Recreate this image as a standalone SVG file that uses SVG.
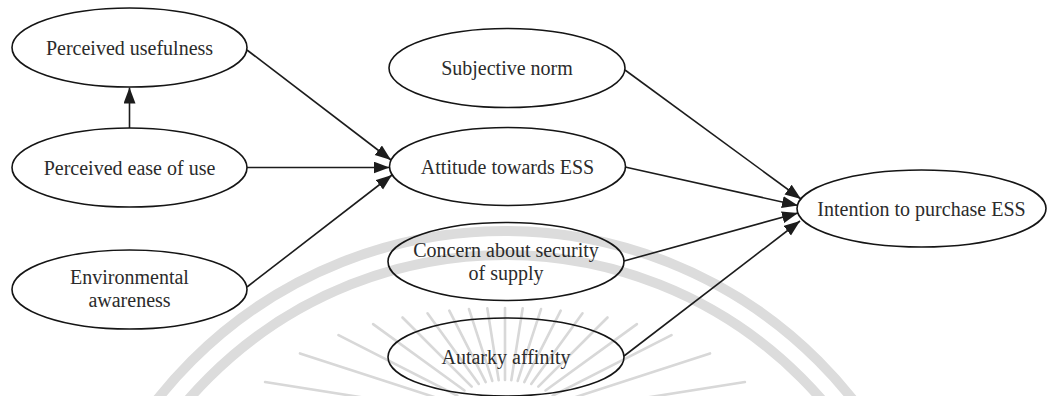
<svg xmlns="http://www.w3.org/2000/svg" width="1049" height="396" viewBox="0 0 1049 396">
  <style>
    .node ellipse { fill: none; stroke: #151515; stroke-width: 1.6; }
    .node text { font-family: "Liberation Serif", "Times New Roman", serif; font-size: 20px; fill: #2b2b2b; text-anchor: middle; }
    .edge { fill: none; stroke: #1c1c1c; stroke-width: 1.6; marker-end: url(#arrow); }
    .band { fill: none; stroke: #dcdcdc; stroke-width: 10; }
    .ray { stroke: #d8d8d8; stroke-width: 2.6; stroke-linecap: round; }
  </style>
  <defs>
    <marker id="arrow" markerUnits="userSpaceOnUse" markerWidth="17" markerHeight="13" refX="16" refY="6" orient="auto">
      <path d="M0,0 L16,6 L0,12 z" fill="#1c1c1c"/>
    </marker>
  </defs>

  <rect width="1049" height="396" fill="#ffffff"/>

  <!-- background seal: two arcs and sun rays -->
  <g id="seal">
    <circle class="band" cx="505" cy="674" r="443"/>
    <circle class="band" cx="505" cy="674" r="419"/>
    <g>
      <line class="ray" x1="563.4" y1="410.8" x2="744.9" y2="382.0"/>
      <line class="ray" x1="558.9" y1="402.5" x2="710.0" y2="353.4"/>
      <line class="ray" x1="552.7" y1="395.7" x2="671.5" y2="335.2"/>
      <line class="ray" x1="545.5" y1="390.5" x2="636.9" y2="324.1"/>
      <line class="ray" x1="538.3" y1="386.7" x2="607.5" y2="317.5"/>
      <line class="ray" x1="531.2" y1="384.0" x2="582.5" y2="313.3"/>
      <line class="ray" x1="524.3" y1="382.1" x2="560.7" y2="310.7"/>
      <line class="ray" x1="517.7" y1="380.9" x2="541.0" y2="309.1"/>
      <line class="ray" x1="511.3" y1="380.2" x2="522.7" y2="308.3"/>
      <line class="ray" x1="505.0" y1="380.0" x2="505.0" y2="308.0"/>
      <line class="ray" x1="498.7" y1="380.2" x2="487.3" y2="308.3"/>
      <line class="ray" x1="492.3" y1="380.9" x2="469.0" y2="309.1"/>
      <line class="ray" x1="485.7" y1="382.1" x2="449.3" y2="310.7"/>
      <line class="ray" x1="478.8" y1="384.0" x2="427.5" y2="313.3"/>
      <line class="ray" x1="471.7" y1="386.7" x2="402.5" y2="317.5"/>
      <line class="ray" x1="464.5" y1="390.5" x2="373.1" y2="324.1"/>
      <line class="ray" x1="457.3" y1="395.7" x2="338.5" y2="335.2"/>
      <line class="ray" x1="451.1" y1="402.5" x2="300.0" y2="353.4"/>
      <line class="ray" x1="446.6" y1="410.8" x2="265.1" y2="382.0"/>
    </g>
  </g>

  <!-- connectors -->
  <g id="edges">
    <path class="edge" d="M129.5,128 L129.5,87.5"/>
    <path class="edge" d="M247,50 L391,160"/>
    <path class="edge" d="M247,167.5 L389.5,167.5"/>
    <path class="edge" d="M247,287 L392,175"/>
    <path class="edge" d="M625,70 L801,199"/>
    <path class="edge" d="M625,167 L798,205.5"/>
    <path class="edge" d="M624,261 L798,213"/>
    <path class="edge" d="M624,356 L800,221"/>
  </g>

  <!-- nodes -->
  <g id="perceived-usefulness" class="node">
    <ellipse cx="129.5" cy="47.5" rx="117.5" ry="39.5"/>
    <text x="129.5" y="54.5">Perceived usefulness</text>
  </g>
  <g id="perceived-ease-of-use" class="node">
    <ellipse cx="129.5" cy="167.5" rx="117.5" ry="39.5"/>
    <text x="129.5" y="174.5">Perceived ease of use</text>
  </g>
  <g id="environmental-awareness" class="node">
    <ellipse cx="129.5" cy="289.5" rx="117.5" ry="39.5"/>
    <text x="129.5" y="283.5">Environmental</text>
    <text x="129.5" y="306.5">awareness</text>
  </g>
  <g id="subjective-norm" class="node">
    <ellipse cx="507" cy="68" rx="118" ry="39.5"/>
    <text x="507" y="75">Subjective norm</text>
  </g>
  <g id="attitude" class="node">
    <ellipse cx="507.5" cy="166.5" rx="118" ry="39"/>
    <text x="507.5" y="173.5">Attitude towards ESS</text>
  </g>
  <g id="security-of-supply" class="node">
    <ellipse cx="506" cy="261.5" rx="118" ry="39"/>
    <text x="506" y="256.5">Concern about security</text>
    <text x="506" y="279.5">of supply</text>
  </g>
  <g id="autarky-affinity" class="node">
    <ellipse cx="506" cy="357" rx="118" ry="39"/>
    <text x="506" y="364">Autarky affinity</text>
  </g>
  <g id="intention" class="node">
    <ellipse cx="921.5" cy="208.5" rx="124.5" ry="38.5"/>
    <text x="921.5" y="215.5">Intention to purchase ESS</text>
  </g>
</svg>
